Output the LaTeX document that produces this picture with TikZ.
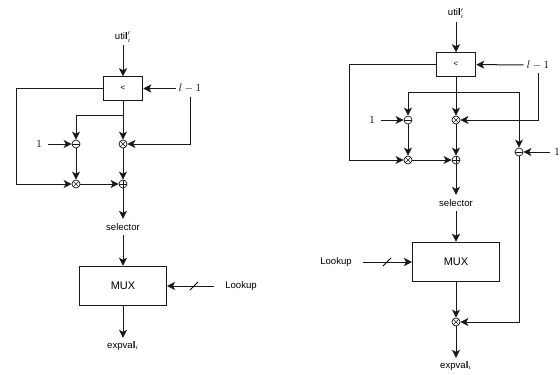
\documentclass[tikz,border=0pt]{standalone}
\usepackage{fontspec}
\setmainfont{Liberation Sans}
\usetikzlibrary{arrows.meta,calc}
\tikzset{
  wire/.style={draw=black!90,line width=1pt},
  arr/.style={wire,-{Stealth[length=8pt,width=8pt,inset=2pt]}},
  opnode/.style={circle,draw=black!90,line width=0.7pt,minimum size=8pt,inner sep=0pt,fill=white},
  minusop/.style={opnode,path picture={\draw[line width=0.6pt] (path picture bounding box.west) -- (path picture bounding box.east);}},
  plusop/.style={opnode,path picture={\draw[line width=0.6pt] (path picture bounding box.west) -- (path picture bounding box.east) (path picture bounding box.north) -- (path picture bounding box.south);}},
  timesop/.style={opnode,path picture={\draw[line width=0.6pt] (path picture bounding box.north west) -- (path picture bounding box.south east) (path picture bounding box.north east) -- (path picture bounding box.south west);}},
  lbl/.style={minimum height=16pt,inner ysep=0pt,inner xsep=#1,font=\fontsize{9.6}{11}\selectfont,text=black},
  lbl/.default=3pt,
  cmpbox/.style={draw=black!90,line width=1pt,minimum width=39.5pt,minimum height=23.5pt,inner sep=0pt,font=\fontsize{8}{9}\selectfont},
  muxbox/.style={draw=black!90,line width=1pt,minimum width=87pt,minimum height=39.5pt,inner sep=0pt,font=\fontsize{11}{12}\selectfont,text=black},
  slashmark/.style={minimum width=8pt,minimum height=8pt,inner sep=0pt},
  slashline/.style={draw=black,line width=0.8pt},
  mathlbl/.style={lbl=#1,font=\fontsize{10.5}{12}\selectfont},
}
\begin{document}
\begin{tikzpicture}[x=1pt,y=-1pt]
\useasboundingbox (0,0) rectangle (560,375);
% left diagram
\node[lbl] (aU) at (123,37) {uti\textbf{l}$'_i$};
\node[cmpbox] (aC) at (123,88.5) {<};
\node[mathlbl=3pt] (aL) at (190,88.5) {$l-1$};
\node[mathlbl=6pt] (aO) at (39,144) {$1$};
\node[minusop] (aM) at (76,144) {};
\node[timesop] (aT) at (123,144) {};
\node[timesop] (aX) at (76,184) {};
\node[plusop] (aP) at (123,184) {};
\node[lbl] (aS) at (123,227) {selector};
\node[muxbox] (aMux) at (123,286) {MUX};
\node[lbl] (aE) at (123,346) {expva\textbf{l}$_i$};
\node[lbl=11pt] (aK) at (241,286) {Lookup};
\node[slashmark] (aZ) at (194,286) {};
\coordinate (aB) at (123,115);
\coordinate (aF) at (16.5,88.5);
\draw[arr] (aU) -- (aC);
\draw[arr] (aL) -- (aC);
\draw[wire] (aC) -- (aB);
\draw[arr] (aB) -- (aT);
\draw[arr] (aB) -| (aM);
\draw[arr] (aL.south) |- (aT);
\draw[arr] (aO) -- (aM);
\draw[arr] (aM) -- (aX);
\draw[arr] (aT) -- (aP);
\draw[arr] (aX) -- (aP);
\draw[arr] (aC.west) -- (aF) |- (aX);
\draw[arr] (aP) -- (aS);
\draw[arr] (aS) -- (aMux);
\draw[arr] (aMux) -- (aE);
\draw[arr] (aK) -- (aMux);
\draw[slashline] (aZ.south west) -- (aZ.north east);
% right diagram
\node[lbl] (bU) at (456,13.5) {uti\textbf{l}$'_i$};
\node[cmpbox] (bC) at (456,64.5) {<};
\node[mathlbl=3pt] (bL) at (538,65) {$l-1$};
\node[mathlbl=6pt] (bO) at (372,120) {$1$};
\node[minusop] (bM) at (408,120) {};
\node[timesop] (bT) at (456,120) {};
\node[timesop] (bX) at (408,160) {};
\node[plusop] (bP) at (456,160) {};
\node[minusop] (bN) at (519,152) {};
\node[mathlbl=4pt] (bQ) at (557,152) {$1$};
\node[lbl] (bS) at (456,203) {selector};
\node[muxbox] (bMux) at (456,262) {MUX};
\node[timesop] (bY) at (456,322) {};
\node[lbl] (bE) at (456,366) {expva\textbf{l}$_i$};
\node[lbl=11pt] (bK) at (336,262) {Lookup};
\node[slashmark] (bZ) at (387,262) {};
\coordinate (bB) at (456,92);
\coordinate (bF) at (349,64.5);
\draw[arr] (bU) -- (bC);
\draw[arr] (bL) -- (bC);
\draw[wire] (bC) -- (bB);
\draw[arr] (bB) -- (bT);
\draw[arr] (bB) -| (bM);
\draw[arr] (bB) -| (bN);
\draw[arr] (bL.south) |- (bT);
\draw[arr] (bO) -- (bM);
\draw[arr] (bQ) -- (bN);
\draw[arr] (bM) -- (bX);
\draw[arr] (bT) -- (bP);
\draw[arr] (bX) -- (bP);
\draw[arr] (bC.west) -- (bF) |- (bX);
\draw[arr] (bP) -- (bS);
\draw[arr] (bS) -- (bMux);
\draw[arr] (bMux) -- (bY);
\draw[arr] (bN) |- (bY);
\draw[arr] (bY) -- (bE);
\draw[arr] (bK) -- (bMux);
\draw[slashline] (bZ.south west) -- (bZ.north east);
\end{tikzpicture}
\end{document}
